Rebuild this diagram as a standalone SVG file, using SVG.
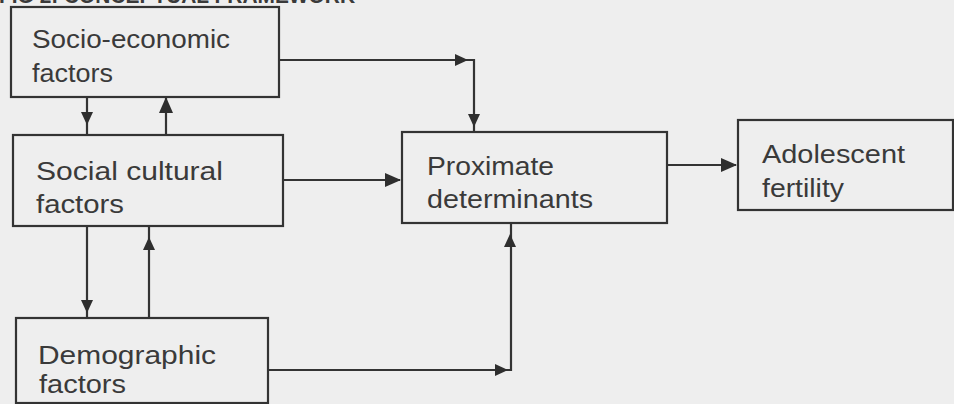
<svg xmlns="http://www.w3.org/2000/svg" xmlns:xlink="http://www.w3.org/1999/xlink" width="954" height="404" viewBox="0 0 954 404">
  <style>
    .bg { fill: #eeeeee; }
    .box { fill: none; stroke: #333333; stroke-width: 2.2; }
    .lbl { font-family: "Liberation Sans", Arial, sans-serif; font-size: 25px; fill: #3a3a3a; }
    .title { font-family: "Liberation Sans", Arial, sans-serif; font-size: 22px; font-weight: bold; fill: #3a3a3a; }
    .wire { fill: none; stroke: #333333; stroke-width: 2.2; }
    .head { fill: #2e2e2e; }
  </style>
  <defs>
    <path id="ah" d="M0,0 L-16,-7 L-16,7 Z"/>
    <path id="ahs" d="M0,0 L-13,-6 L-13,6 Z"/>
  </defs>
  <rect class="bg" x="0" y="0" width="954" height="404"/>
  <text class="title" x="-1" y="3" textLength="356" lengthAdjust="spacingAndGlyphs">FIG 2: CONCEPTUAL FRAMEWORK</text>

  <g id="connectors">
    <path class="wire" d="M280,60 H474 V132"/>
    <use href="#ahs" class="head" transform="translate(468,60)"/>
    <use href="#ahs" class="head" transform="translate(474,127) rotate(90)"/>

    <path class="wire" d="M87,97 V135"/>
    <use href="#ahs" class="head" transform="translate(87,125) rotate(90)"/>

    <path class="wire" d="M166,135 V98"/>
    <use href="#ah" class="head" transform="translate(166,97) rotate(-90)"/>

    <path class="wire" d="M283,180 H400"/>
    <use href="#ah" class="head" transform="translate(401,180)"/>

    <path class="wire" d="M87,226 V318"/>
    <use href="#ahs" class="head" transform="translate(87,313) rotate(90)"/>

    <path class="wire" d="M149,318 V226"/>
    <use href="#ahs" class="head" transform="translate(149,237) rotate(-90)"/>

    <path class="wire" d="M268,370 H511 V223"/>
    <use href="#ahs" class="head" transform="translate(508,370)"/>
    <use href="#ahs" class="head" transform="translate(510,234) rotate(-90)"/>

    <path class="wire" d="M667,165 H736"/>
    <use href="#ah" class="head" transform="translate(737,165)"/>
  </g>

  <g id="socio-economic">
    <rect class="box" x="11" y="7" width="268" height="90"/>
    <text class="lbl" x="32" y="48" font-size="23" textLength="198" lengthAdjust="spacingAndGlyphs">Socio-economic</text>
    <text class="lbl" x="32" y="82" font-size="23" textLength="81" lengthAdjust="spacingAndGlyphs">factors</text>
  </g>

  <g id="social-cultural">
    <rect class="box" x="13" y="135" width="270" height="91"/>
    <text class="lbl" x="36" y="180" textLength="187" lengthAdjust="spacingAndGlyphs">Social cultural</text>
    <text class="lbl" x="36" y="213" textLength="88" lengthAdjust="spacingAndGlyphs">factors</text>
  </g>

  <g id="demographic">
    <rect class="box" x="16" y="318" width="252" height="85"/>
    <text class="lbl" x="38" y="364" textLength="178" lengthAdjust="spacingAndGlyphs">Demographic</text>
    <text class="lbl" x="39" y="393" textLength="87" lengthAdjust="spacingAndGlyphs">factors</text>
  </g>

  <g id="proximate">
    <rect class="box" x="402" y="132" width="265" height="91"/>
    <text class="lbl" x="427" y="175" textLength="127" lengthAdjust="spacingAndGlyphs">Proximate</text>
    <text class="lbl" x="427" y="208" textLength="166" lengthAdjust="spacingAndGlyphs">determinants</text>
  </g>

  <g id="adolescent">
    <rect class="box" x="738" y="120" width="215" height="90"/>
    <text class="lbl" x="762" y="163" textLength="143" lengthAdjust="spacingAndGlyphs">Adolescent</text>
    <text class="lbl" x="762" y="197" textLength="82" lengthAdjust="spacingAndGlyphs">fertility</text>
  </g>
</svg>
